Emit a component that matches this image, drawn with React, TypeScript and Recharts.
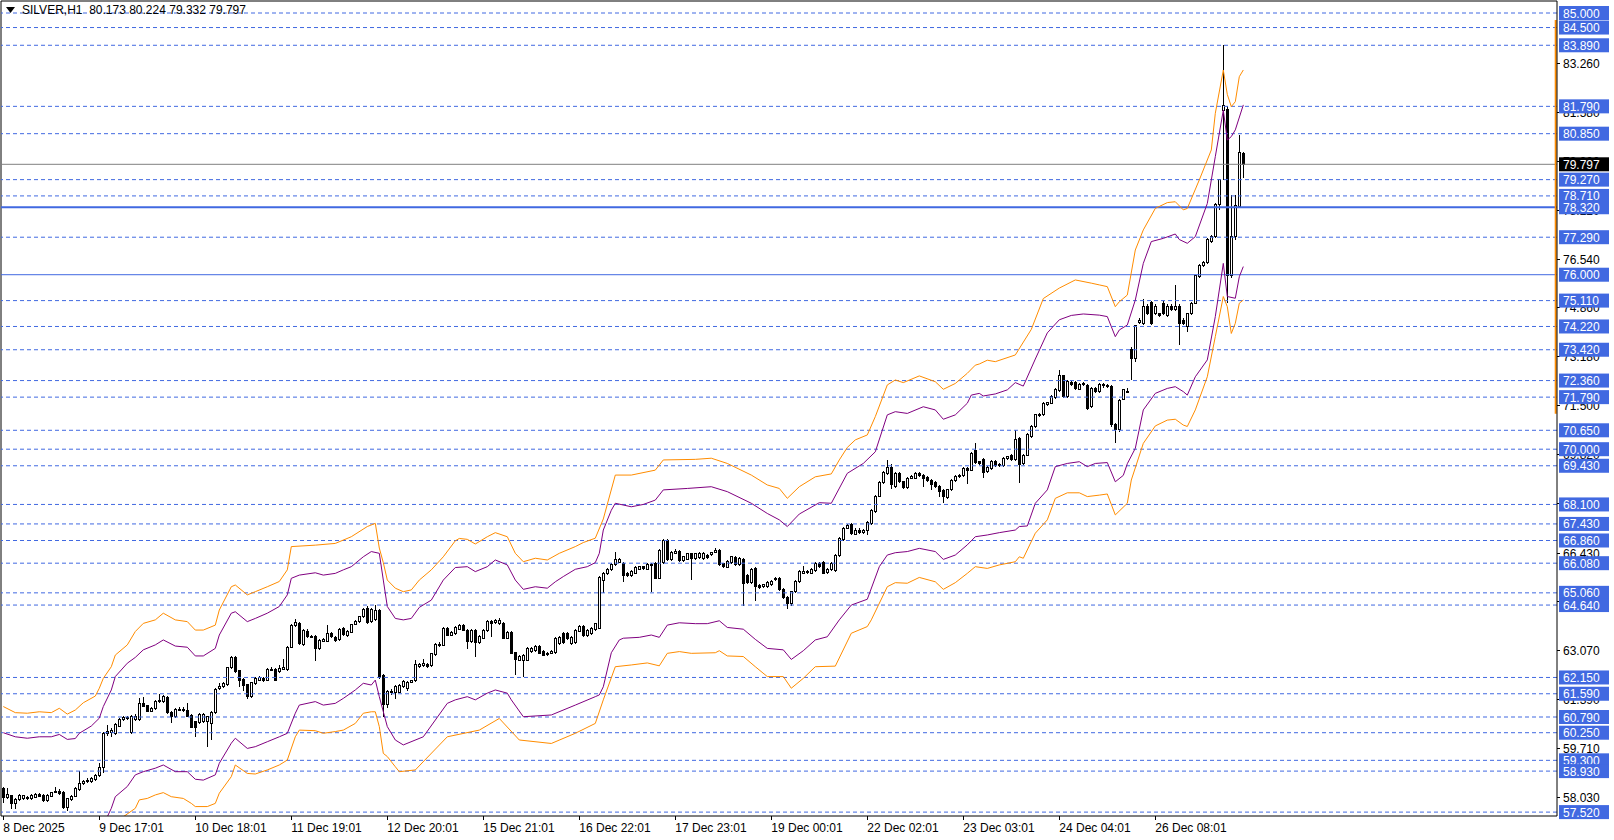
import { ComposedChart, Bar, Line, XAxis, YAxis, ReferenceLine } from 'recharts';

// [open, high, low, close] per H1 bar
const candles: [number, number, number, number][] = [
  [58.34, 58.40, 57.82, 58.02], [58.02, 58.35, 57.98, 58.12], [58.10, 58.12, 57.62, 57.82], [57.80, 58.00, 57.64, 57.94],
  [57.94, 58.15, 57.90, 58.10], [57.98, 58.12, 57.94, 58.09], [58.02, 58.06, 57.95, 57.98], [57.98, 58.14, 57.95, 58.10],
  [58.03, 58.18, 58.00, 58.14], [58.14, 58.18, 58.04, 58.07], [58.10, 58.14, 57.88, 57.91], [57.91, 58.14, 57.88, 58.10],
  [58.07, 58.22, 58.04, 58.19], [58.19, 58.40, 58.16, 58.24], [58.24, 58.30, 58.12, 58.17], [58.21, 58.26, 57.62, 57.68],
  [57.68, 58.02, 57.57, 57.98], [57.94, 58.10, 57.90, 58.07], [58.07, 58.38, 58.04, 58.34], [58.30, 58.92, 58.26, 58.51],
  [58.51, 58.64, 58.46, 58.58], [58.56, 58.68, 58.52, 58.62], [58.56, 58.72, 58.52, 58.67], [58.65, 58.84, 58.60, 58.78],
  [58.78, 59.22, 58.72, 59.04], [59.04, 60.28, 58.85, 60.23], [60.21, 60.52, 60.14, 60.30], [60.25, 60.40, 60.10, 60.32],
  [60.21, 60.58, 60.16, 60.53], [60.48, 60.74, 60.44, 60.69], [60.69, 60.84, 60.64, 60.78], [60.79, 60.84, 60.70, 60.76],
  [60.26, 60.86, 60.20, 60.80], [60.69, 60.88, 60.64, 60.82], [60.71, 61.43, 60.66, 61.26], [61.26, 61.49, 61.12, 61.15],
  [61.17, 61.22, 60.95, 60.99], [60.99, 61.12, 60.95, 61.08], [61.08, 61.36, 61.04, 61.31], [61.31, 61.58, 61.28, 61.35],
  [61.31, 61.55, 61.28, 61.49], [61.47, 61.52, 60.90, 60.94], [60.96, 61.00, 60.60, 60.80], [60.80, 61.10, 60.76, 61.05],
  [61.01, 61.14, 60.98, 61.05], [61.05, 61.12, 60.96, 61.01], [61.03, 61.26, 60.78, 60.80], [60.85, 60.90, 60.40, 60.44],
  [60.62, 60.66, 60.11, 60.44], [60.60, 60.92, 60.56, 60.87], [60.62, 60.92, 60.58, 60.87], [60.62, 60.84, 59.75, 60.80],
  [60.55, 61.00, 60.00, 60.96], [60.94, 61.78, 60.90, 61.74], [61.77, 61.95, 61.72, 61.83], [61.83, 61.98, 61.78, 61.95],
  [61.90, 62.52, 61.86, 62.48], [62.48, 62.90, 62.44, 62.84], [62.84, 62.90, 62.32, 62.36], [62.38, 62.42, 61.81, 62.06],
  [62.09, 62.14, 61.70, 61.86], [61.90, 61.94, 61.42, 61.49], [61.49, 62.00, 61.44, 61.97], [61.93, 62.16, 61.90, 62.11],
  [62.06, 62.20, 62.02, 62.16], [62.13, 62.18, 62.00, 62.04], [62.06, 62.46, 62.02, 62.41], [62.41, 62.50, 62.36, 62.43],
  [62.41, 62.46, 62.02, 62.06], [62.34, 62.57, 62.30, 62.45], [62.43, 62.80, 62.40, 62.48], [62.41, 63.22, 62.38, 63.19],
  [63.19, 63.98, 63.16, 63.94], [63.92, 64.15, 63.88, 64.04], [64.01, 64.06, 63.28, 63.32], [63.28, 63.82, 63.24, 63.78],
  [63.74, 63.80, 63.50, 63.55], [63.57, 63.62, 63.50, 63.55], [63.57, 63.60, 62.71, 63.14], [63.14, 63.46, 63.10, 63.42],
  [63.40, 63.50, 63.36, 63.46], [63.40, 63.94, 63.36, 63.65], [63.65, 63.70, 63.50, 63.55], [63.53, 63.58, 63.38, 63.42],
  [63.44, 63.86, 63.40, 63.81], [63.83, 63.88, 63.58, 63.62], [63.58, 63.78, 63.54, 63.74], [63.71, 64.00, 63.68, 63.97],
  [63.97, 64.12, 63.94, 64.08], [64.08, 64.28, 64.04, 64.24], [64.24, 64.53, 64.20, 64.49], [64.52, 64.60, 64.00, 64.04],
  [64.06, 64.54, 64.02, 64.49], [64.15, 64.63, 64.10, 64.47], [64.45, 64.50, 62.10, 62.20], [62.22, 62.28, 60.80, 61.22],
  [61.22, 61.72, 61.10, 61.67], [61.67, 61.75, 61.55, 61.63], [61.65, 61.90, 61.40, 61.83], [61.65, 61.94, 61.60, 61.88],
  [61.83, 62.08, 61.78, 62.02], [61.76, 62.02, 61.70, 61.97], [61.99, 62.08, 61.95, 62.04], [62.04, 62.75, 62.00, 62.58],
  [62.52, 62.66, 62.48, 62.61], [62.57, 62.80, 62.52, 62.64], [62.61, 62.66, 62.48, 62.52], [62.57, 63.00, 62.52, 62.96],
  [62.93, 63.34, 62.90, 63.30], [63.30, 63.36, 63.20, 63.26], [63.26, 63.90, 63.22, 63.84], [63.84, 63.90, 63.56, 63.61],
  [63.61, 63.74, 63.56, 63.69], [63.67, 63.92, 63.62, 63.87], [63.81, 64.00, 63.78, 63.95], [63.95, 64.00, 63.74, 63.78],
  [63.78, 63.82, 63.12, 63.38], [63.38, 63.80, 63.34, 63.76], [63.76, 63.80, 62.87, 63.35], [63.35, 63.60, 63.30, 63.55],
  [63.50, 63.82, 63.46, 63.78], [63.76, 64.12, 63.72, 64.07], [64.07, 64.12, 63.55, 64.01], [64.03, 64.16, 63.98, 64.10],
  [64.01, 64.18, 63.96, 64.12], [64.01, 64.06, 63.46, 63.50], [63.50, 63.76, 63.46, 63.71], [63.71, 63.76, 62.94, 62.98],
  [63.00, 63.04, 62.22, 62.77], [62.75, 62.92, 62.70, 62.87], [62.75, 62.94, 62.18, 62.89], [62.75, 63.20, 62.70, 63.15],
  [63.04, 63.20, 63.00, 63.15], [63.07, 63.26, 63.02, 63.21], [63.21, 63.26, 62.94, 62.98], [63.04, 63.08, 62.88, 62.92],
  [62.96, 63.02, 62.90, 62.98], [62.98, 63.10, 62.94, 63.05], [63.00, 63.54, 62.96, 63.49], [63.32, 63.58, 63.28, 63.53],
  [63.65, 63.70, 63.30, 63.35], [63.67, 63.72, 63.44, 63.48], [63.32, 63.58, 63.28, 63.53], [63.35, 63.82, 63.30, 63.78],
  [63.73, 63.94, 63.70, 63.90], [63.90, 63.94, 63.54, 63.58], [63.58, 63.80, 63.54, 63.76], [63.67, 63.88, 63.62, 63.83],
  [63.81, 64.04, 63.76, 63.99], [63.84, 65.64, 63.80, 65.59], [65.48, 65.76, 65.07, 65.71], [65.71, 65.92, 65.66, 65.87],
  [65.85, 66.10, 65.80, 66.05], [66.03, 66.48, 65.98, 66.19], [66.12, 66.26, 66.08, 66.21], [66.07, 66.12, 65.44, 65.67],
  [65.73, 65.78, 65.60, 65.64], [65.64, 65.84, 65.60, 65.79], [65.73, 65.98, 65.70, 65.94], [65.87, 66.00, 65.84, 65.96],
  [65.96, 66.00, 65.86, 65.91], [65.87, 66.10, 65.84, 66.05], [66.00, 66.08, 65.10, 66.03], [66.07, 66.12, 65.52, 65.56],
  [65.57, 66.58, 65.52, 66.53], [66.10, 66.90, 66.06, 66.85], [66.85, 66.90, 66.16, 66.21], [66.19, 66.50, 66.14, 66.46],
  [66.42, 66.56, 66.38, 66.49], [66.48, 66.52, 66.12, 66.17], [66.17, 66.34, 66.12, 66.30], [66.21, 66.44, 66.18, 66.40],
  [66.40, 66.44, 65.50, 66.25], [66.25, 66.44, 66.20, 66.40], [66.28, 66.46, 66.24, 66.42], [66.25, 66.46, 66.20, 66.42],
  [66.36, 66.40, 66.24, 66.28], [66.37, 66.48, 66.32, 66.44], [66.46, 66.60, 66.42, 66.53], [66.51, 66.56, 65.98, 66.02],
  [66.07, 66.10, 65.92, 65.96], [65.94, 66.18, 65.90, 66.13], [66.10, 66.34, 66.06, 66.30], [66.28, 66.32, 66.00, 66.05],
  [66.05, 66.30, 66.00, 66.25], [66.21, 66.26, 64.61, 65.39], [65.67, 65.72, 65.36, 65.41], [65.41, 65.90, 65.36, 65.85],
  [65.89, 65.94, 64.79, 65.27], [65.32, 65.36, 65.20, 65.25], [65.27, 65.38, 65.22, 65.33], [65.27, 65.46, 65.22, 65.41],
  [65.33, 65.50, 65.30, 65.46], [65.52, 65.62, 65.48, 65.56], [65.55, 65.60, 65.12, 65.16], [65.18, 65.22, 64.86, 64.91],
  [64.91, 64.96, 64.49, 64.68], [64.68, 65.14, 64.62, 65.10], [65.10, 65.50, 65.06, 65.44], [65.44, 65.84, 65.40, 65.79],
  [65.73, 65.98, 65.70, 65.79], [65.77, 65.86, 65.72, 65.80], [65.73, 65.90, 65.70, 65.85], [65.82, 66.12, 65.78, 66.08],
  [66.07, 66.12, 65.92, 65.96], [66.10, 66.14, 65.70, 65.73], [65.75, 65.90, 65.70, 65.85], [65.85, 66.12, 65.80, 66.08],
  [65.82, 66.40, 65.78, 66.36], [66.33, 66.98, 66.28, 66.93], [66.90, 67.34, 66.86, 67.28], [67.28, 67.42, 67.24, 67.36],
  [67.40, 67.46, 67.06, 67.11], [67.08, 67.28, 67.04, 67.22], [67.22, 67.28, 67.10, 67.15], [67.15, 67.24, 67.10, 67.20],
  [67.22, 67.52, 67.06, 67.47], [67.45, 67.94, 67.40, 67.89], [67.85, 68.44, 67.80, 68.39], [68.39, 68.90, 68.34, 68.85],
  [68.85, 69.24, 68.80, 69.19], [69.17, 69.62, 69.12, 69.38], [69.38, 69.50, 68.62, 68.77], [68.71, 69.20, 68.66, 69.15],
  [69.15, 69.20, 68.84, 68.88], [68.88, 68.92, 68.64, 68.69], [68.69, 69.04, 68.64, 69.00], [69.00, 69.10, 68.96, 69.05],
  [69.00, 69.20, 68.96, 69.15], [69.17, 69.22, 69.06, 69.10], [69.11, 69.16, 68.70, 69.00], [69.03, 69.08, 68.88, 68.92],
  [68.94, 68.98, 68.60, 68.77], [68.85, 68.90, 68.66, 68.71], [68.73, 68.78, 68.36, 68.54], [68.57, 68.62, 68.14, 68.37],
  [68.34, 68.64, 68.30, 68.60], [68.60, 68.96, 68.56, 68.92], [68.92, 69.10, 68.88, 69.05], [69.05, 69.14, 69.00, 69.10],
  [69.10, 69.38, 69.06, 69.34], [69.34, 69.40, 68.80, 69.28], [69.28, 69.90, 69.24, 69.86], [69.97, 70.20, 69.50, 69.54],
  [69.56, 69.60, 69.46, 69.51], [69.63, 69.68, 69.00, 69.19], [69.23, 69.42, 69.18, 69.38], [69.34, 69.62, 69.30, 69.57],
  [69.57, 69.62, 69.40, 69.45], [69.47, 69.52, 69.40, 69.45], [69.45, 69.74, 69.40, 69.69], [69.69, 69.78, 69.64, 69.74],
  [69.77, 69.82, 69.60, 69.65], [69.65, 70.66, 69.60, 70.34], [70.37, 70.42, 68.85, 69.46], [69.51, 69.84, 69.46, 69.80],
  [69.80, 70.56, 69.76, 70.52], [70.43, 70.82, 70.38, 70.77], [70.77, 71.22, 70.72, 71.18], [71.16, 71.26, 71.12, 71.21],
  [71.18, 71.62, 71.14, 71.58], [71.55, 71.64, 71.50, 71.60], [71.58, 71.86, 71.54, 71.81], [71.78, 72.10, 71.74, 72.06],
  [72.03, 72.72, 71.98, 72.52], [72.52, 72.56, 71.76, 71.81], [71.81, 72.38, 71.76, 72.32], [72.29, 72.34, 72.18, 72.23],
  [72.29, 72.34, 72.04, 72.09], [72.06, 72.26, 72.02, 72.21], [72.21, 72.30, 72.16, 72.25], [72.20, 72.24, 71.36, 71.40],
  [71.46, 72.14, 71.40, 72.09], [72.09, 72.14, 71.94, 71.98], [71.98, 72.26, 71.94, 72.21], [72.21, 72.26, 72.12, 72.18],
  [72.18, 72.24, 72.10, 72.15], [72.15, 72.20, 70.75, 70.85], [70.85, 70.90, 70.20, 70.66], [70.66, 71.74, 70.60, 71.69],
  [71.72, 72.08, 71.68, 72.04], [72.00, 72.10, 71.94, 71.98], [73.43, 73.50, 72.38, 73.12], [73.12, 74.28, 73.00, 74.24],
  [74.35, 74.50, 74.30, 74.44], [74.33, 75.15, 74.28, 74.92], [74.92, 74.98, 74.62, 74.67], [75.04, 75.10, 74.28, 74.33],
  [74.65, 74.98, 74.60, 74.92], [74.65, 74.70, 74.54, 74.60], [75.02, 75.08, 74.62, 74.67], [74.60, 74.98, 74.56, 74.92],
  [74.92, 74.98, 74.76, 74.81], [74.79, 75.65, 74.74, 74.92], [74.92, 74.98, 73.58, 74.33], [74.44, 74.50, 74.28, 74.33],
  [74.21, 74.70, 74.04, 74.65], [74.65, 75.06, 74.60, 75.02], [75.02, 76.00, 74.98, 75.96], [75.93, 76.36, 75.88, 76.30],
  [76.30, 76.46, 76.26, 76.41], [76.41, 77.26, 76.36, 77.22], [77.14, 77.38, 77.10, 77.33], [77.31, 78.48, 77.26, 78.43],
  [78.40, 79.30, 78.23, 79.26], [81.64, 83.89, 79.26, 81.82], [81.69, 81.80, 75.04, 75.99], [75.99, 78.74, 75.90, 77.31],
  [77.31, 78.74, 77.20, 78.37], [78.34, 80.80, 78.30, 80.20], [80.173, 80.224, 79.332, 79.797],
];

// band lines as [bar index, price]
const purpleUpper: [number, number][] = [
  [0, 60.25], [3, 60.11], [6, 60.06], [9, 60.11], [12, 60.11], [14, 60.19], [16, 60.02], [18, 60.05], [19, 60.23],
  [22, 60.48], [24, 60.75], [25, 61.15], [27, 61.72], [28, 62.18], [31, 62.64], [33, 62.84], [35, 63.1], [38, 63.27],
  [40, 63.44], [43, 63.23], [46, 63.19], [48, 62.89], [50, 62.89], [53, 63.15], [54, 63.61], [57, 64.36], [58, 64.41],
  [61, 64.07], [63, 64.18], [66, 64.36], [69, 64.59], [71, 64.99], [72, 65.56], [74, 65.67], [78, 65.75], [80, 65.67],
  [83, 65.73], [85, 65.85], [87, 65.96], [90, 66.3], [92, 66.48], [94, 66.42], [95, 65.5], [96, 64.59], [98, 64.18],
  [100, 64.13], [102, 64.18], [104, 64.56], [107, 64.81], [110, 65.5], [113, 65.93], [116, 65.96], [118, 65.79],
  [121, 65.96], [123, 66.19], [126, 66.02], [128, 65.5], [130, 65.18], [133, 65.27], [136, 65.22], [138, 65.44],
  [140, 65.62], [143, 65.87], [146, 65.96], [148, 66.1], [149, 66.42], [150, 67.22], [152, 67.9], [153, 68.14],
  [157, 68.02], [160, 68.1], [163, 68.25], [165, 68.6], [171, 68.65], [177, 68.71], [181, 68.54], [187, 68.14],
  [191, 67.79], [194, 67.57], [196, 67.34], [199, 67.77], [204, 68.16], [207, 68.14], [211, 69.17], [215, 69.51],
  [218, 69.91], [221, 71.18], [223, 71.29], [226, 71.23], [230, 71.46], [233, 71.35], [235, 71.03], [238, 71.18],
  [241, 71.58], [242, 71.86], [244, 71.92], [245, 71.83], [248, 71.9], [251, 72.04], [253, 72.29], [255, 72.17],
  [258, 73.1], [261, 74.0], [264, 74.45], [267, 74.6], [270, 74.65], [274, 74.61], [276, 74.56], [278, 73.87],
  [279, 74.1], [281, 74.27], [283, 75.13], [285, 76.39], [287, 77.14], [290, 77.25], [293, 77.4], [294, 77.21],
  [296, 77.08], [298, 77.31], [301, 78.45], [303, 80.06], [305, 81.66], [306, 80.63], [307, 80.75], [308, 80.98],
  [310, 81.84],
];

const orangeUpper: [number, number][] = [
  [0, 61.15], [3, 60.94], [6, 60.92], [9, 60.97], [12, 60.94], [14, 61.09], [16, 60.89], [18, 61.03], [20, 61.28],
  [23, 61.51], [24, 61.78], [25, 62.12], [27, 62.52], [28, 62.92], [31, 63.27], [33, 63.73], [35, 64.01], [38, 64.13],
  [40, 64.36], [43, 64.13], [46, 64.07], [48, 63.78], [50, 63.78], [53, 63.95], [54, 64.47], [57, 65.27], [58, 65.33],
  [61, 64.99], [63, 65.1], [66, 65.27], [69, 65.45], [71, 65.85], [72, 66.65], [78, 66.7], [83, 66.76], [87, 66.99],
  [91, 67.34], [93, 67.45], [94, 66.6], [95, 66.1], [96, 65.5], [98, 65.22], [100, 65.1], [102, 65.16], [104, 65.5],
  [107, 65.85], [110, 66.3], [113, 66.85], [114, 66.93], [116, 66.9], [118, 66.74], [121, 66.99], [123, 67.13],
  [126, 66.99], [128, 66.42], [130, 66.13], [133, 66.25], [136, 66.19], [139, 66.42], [143, 66.65], [145, 66.79],
  [148, 66.94], [150, 67.6], [153, 69.11], [157, 69.11], [163, 69.28], [165, 69.63], [173, 69.65], [177, 69.69],
  [181, 69.51], [187, 69.11], [191, 68.77], [194, 68.65], [196, 68.31], [199, 68.71], [203, 69.05], [207, 69.15],
  [209, 69.63], [211, 70.06], [213, 70.32], [216, 70.49], [218, 71.12], [221, 72.21], [223, 72.38], [225, 72.29],
  [229, 72.52], [233, 72.32], [235, 72.06], [238, 72.26], [241, 72.61], [243, 72.89], [244, 72.93], [246, 73.06],
  [248, 73.01], [253, 73.24], [257, 74.12], [260, 75.18], [264, 75.54], [268, 75.82], [272, 75.71], [274, 75.65],
  [276, 75.59], [278, 74.9], [279, 75.07], [281, 75.3], [283, 76.85], [285, 77.54], [288, 78.28], [291, 78.48],
  [293, 78.51], [295, 78.23], [296, 78.28], [299, 79.26], [302, 80.29], [303, 81.55], [305, 83.04], [306, 82.2],
  [307, 81.78], [308, 81.95], [309, 82.81], [310, 83.04],
];

const purpleLower: [number, number][] = [
  [0, 56.6], [10, 56.5], [20, 56.7], [24, 57.2], [26, 57.36], [27, 57.65], [28, 58.05], [31, 58.4], [33, 58.8],
  [35, 58.91], [38, 59.03], [40, 59.14], [43, 58.91], [46, 58.91], [48, 58.65], [50, 58.62], [53, 58.8], [54, 59.2],
  [57, 59.89], [58, 60.06], [61, 59.71], [63, 59.77], [66, 59.94], [69, 60.11], [71, 60.23], [73, 60.92], [74, 61.2],
  [78, 61.32], [80, 61.2], [83, 61.26], [85, 61.43], [88, 61.72], [90, 61.95], [92, 61.89], [93, 62.06], [94, 61.49],
  [96, 60.46], [98, 60.0], [100, 59.83], [105, 60.11], [111, 61.26], [113, 61.38], [116, 61.49], [118, 61.38],
  [121, 61.61], [123, 61.72], [126, 61.61], [127, 61.38], [130, 60.8], [137, 60.86], [143, 61.2], [148, 61.49],
  [149, 61.55], [150, 61.83], [152, 63.0], [154, 63.44], [155, 63.5], [159, 63.53], [162, 63.61], [164, 63.53],
  [166, 63.95], [169, 64.03], [173, 64.0], [176, 64.0], [179, 64.1], [181, 63.87], [185, 63.81], [188, 63.46],
  [191, 63.15], [195, 63.1], [197, 62.77], [200, 63.07], [203, 63.44], [206, 63.55], [209, 64.13], [212, 64.64],
  [216, 64.84], [219, 65.96], [221, 66.36], [223, 66.44], [226, 66.48], [229, 66.59], [233, 66.48], [235, 66.21],
  [238, 66.36], [241, 66.71], [243, 66.99], [246, 67.05], [249, 67.13], [253, 67.22], [254, 67.34], [256, 67.36],
  [258, 68.14], [261, 68.6], [263, 69.4], [266, 69.51], [269, 69.57], [271, 69.4], [273, 69.51], [276, 69.54],
  [278, 68.88], [280, 69.1], [281, 69.5], [283, 70.03], [285, 71.35], [288, 71.92], [291, 72.09], [293, 72.15],
  [295, 71.98], [296, 71.86], [298, 72.49], [301, 73.07], [303, 74.56], [305, 76.39], [306, 75.25], [308, 75.19],
  [309, 75.93], [310, 76.28],
];

const orangeLower: [number, number][] = [
  [0, 55.7], [10, 55.6], [20, 55.8], [25, 56.3], [28, 56.9], [30, 57.36], [33, 57.65], [34, 57.94], [36, 57.99],
  [38, 58.11], [40, 58.19], [42, 58.05], [45, 57.99], [47, 57.82], [48, 57.71], [51, 57.71], [53, 57.82], [54, 58.17],
  [57, 58.74], [58, 59.14], [61, 58.85], [63, 58.83], [66, 58.97], [69, 59.14], [71, 59.31], [73, 60.11], [74, 60.34],
  [78, 60.32], [80, 60.23], [83, 60.29], [85, 60.34], [88, 60.57], [90, 60.92], [92, 60.97], [93, 60.97], [94, 60.46],
  [95, 59.54], [96, 59.43], [98, 59.08], [99, 58.91], [103, 58.97], [111, 60.11], [119, 60.34], [124, 60.74],
  [129, 60.0], [137, 59.88], [143, 60.23], [148, 60.57], [150, 61.38], [153, 62.52], [157, 62.58], [161, 62.65],
  [164, 62.55], [166, 62.98], [169, 63.04], [172, 62.98], [178, 63.0], [179, 63.07], [181, 62.89], [185, 62.87],
  [188, 62.52], [191, 62.18], [195, 62.18], [197, 61.78], [200, 62.12], [203, 62.52], [208, 62.54], [212, 63.67],
  [216, 63.9], [217, 64.13], [221, 65.27], [223, 65.41], [226, 65.39], [229, 65.59], [233, 65.44], [235, 65.18],
  [238, 65.41], [241, 65.73], [243, 65.96], [246, 65.9], [249, 66.02], [253, 66.13], [254, 66.3], [255, 66.25],
  [258, 67.11], [261, 67.57], [263, 68.31], [266, 68.5], [269, 68.5], [271, 68.37], [274, 68.42], [276, 68.46],
  [278, 67.74], [281, 68.14], [282, 68.94], [285, 70.2], [288, 70.8], [291, 71.0], [293, 71.03], [295, 70.83],
  [296, 70.78], [298, 71.35], [301, 72.49], [303, 73.87], [305, 75.25], [306, 74.9], [307, 73.98], [308, 74.33],
  [309, 75.02], [310, 75.13],
];

const dashedLevels = [
  85.0, 84.5, 83.89, 81.79, 80.85, 79.27, 78.71, 77.29, 75.11, 74.22, 73.42, 72.36, 71.79, 70.65, 70.0, 69.43,
  68.1, 67.43, 66.86, 66.08, 65.06, 64.64, 62.15, 61.59, 60.79, 60.25, 59.3, 58.93, 57.52,
];
const solidLevels = [78.32, 76.0];
const bidPrice = 79.797;

const priceTicks = [83.26, 81.58, 79.9, 78.22, 76.54, 74.86, 73.18, 71.5, 69.82, 68.12, 66.43, 64.75, 63.07, 61.39, 59.71, 58.03];
const timeTickBars = [0, 24, 48, 72, 96, 120, 144, 168, 192, 216, 240, 264, 288];
const timeTickLabels = [
  '8 Dec 2025', '9 Dec 17:01', '10 Dec 18:01', '11 Dec 19:01', '12 Dec 20:01', '15 Dec 21:01', '16 Dec 22:01',
  '17 Dec 23:01', '19 Dec 00:01', '22 Dec 02:01', '23 Dec 03:01', '24 Dec 04:01', '26 Dec 08:01',
];

const FONT = '"Liberation Sans", Arial, sans-serif';
const BLUE = '#4169E1';
const X_DOMAIN: [number, number] = [-0.575, 388.425];
const Y_DOMAIN: [number, number] = [57.386, 85.4127];

const rows: any[] = candles.map(([o, h, l, c], i) => ({ i, o, h, l, c, range: [l, h] }));
const bandSets: [string, [number, number][]][] = [
  ['pu', purpleUpper], ['ou', orangeUpper], ['pl', purpleLower], ['ol', orangeLower],
];
bandSets.forEach(([key, pts]) => pts.forEach(([i, v]) => { rows[i][key] = v; }));

function Candle(props: any) {
  const { x, y, width, height, payload } = props;
  if (x == null || !payload) return null;
  const { o, h, l, c } = payload;
  const top = Math.min(y, y + height);
  const bottom = Math.max(y, y + height);
  const span = h - l || 1;
  const toPx = (p: number) => top + ((h - p) / span) * (bottom - top);
  const cx = Math.round(x + width / 2) + 0.5;
  const yo = toPx(o);
  const yc = toPx(c);
  const bodyTop = Math.min(yo, yc);
  const bodyH = Math.max(Math.abs(yc - yo), 1);
  return (
    <g shapeRendering="crispEdges">
      <line x1={cx} x2={cx} y1={top} y2={bottom} stroke="#000" />
      <rect x={cx - 1} y={bodyTop} width={2} height={bodyH} fill={c >= o ? '#fff' : '#000'} stroke="#000" />
    </g>
  );
}

// boxed price label on the right scale, for horizontal levels
const levelLabel = (value: number, bg: string) => (props: any) => {
  const vb = props.viewBox || {};
  const x = vb.x + vb.width + 2;
  const y = vb.y;
  return (
    <g>
      <rect x={x} y={y - 7} width={50} height={14} fill={bg} />
      <text x={x + 4} y={y + 4.5} fill="#fff" fontSize={12} fontFamily={FONT}>{value.toFixed(3)}</text>
    </g>
  );
};

// plain scale tick, drawn under the level labels
const scaleLabel = (value: number) => (props: any) => {
  const vb = props.viewBox || {};
  const x = vb.x + vb.width;
  const y = vb.y;
  return (
    <g>
      <line x1={x} x2={x + 3} y1={y} y2={y} stroke="#000" shapeRendering="crispEdges" />
      <text x={x + 6} y={y + 4.5} fill="#000" fontSize={12} fontFamily={FONT}>{value.toFixed(3)}</text>
    </g>
  );
};

function TimeTick(props: any) {
  const { x, y, payload } = props;
  const label = timeTickLabels[timeTickBars.indexOf(payload.value)];
  return (
    <g>
      <line x1={x} x2={x} y1={y} y2={y + 4} stroke="#000" shapeRendering="crispEdges" />
      <text x={x} y={y + 16} fill="#000" fontSize={12} fontFamily={FONT}>{label}</text>
    </g>
  );
}

export default function App() {
  return (
    <div style={{ position: 'relative', width: 1614, height: 840, background: '#fff' }}>
      <style>{'body{margin:0}'}</style>
      <ComposedChart width={1614} height={840} data={rows} margin={{ top: 1, right: 0, bottom: 0, left: 1 }}>
        <XAxis
          dataKey="i"
          type="number"
          domain={X_DOMAIN}
          allowDataOverflow
          ticks={timeTickBars}
          interval={0}
          height={24}
          tickLine={false}
          tickSize={0}
          tickMargin={0}
          stroke="#000"
          tick={<TimeTick />}
        />
        <YAxis
          orientation="right"
          type="number"
          domain={Y_DOMAIN}
          allowDataOverflow
          ticks={priceTicks}
          width={57}
          tickLine={false}
          tick={false}
          stroke="#000"
        />
        <ReferenceLine x={X_DOMAIN[0]} stroke="#000" />
        <ReferenceLine y={Y_DOMAIN[1]} stroke="#000" />
        {priceTicks.map((v) => (
          <ReferenceLine key={`t${v}`} y={v} stroke="none" label={scaleLabel(v)} />
        ))}
        {dashedLevels.map((v) => (
          <ReferenceLine key={v} y={v} stroke={BLUE} strokeDasharray="4 3" label={levelLabel(v, BLUE)} />
        ))}
        <ReferenceLine y={bidPrice} stroke="#808080" label={levelLabel(bidPrice, '#000')} />
        <ReferenceLine y={solidLevels[0]} stroke={BLUE} strokeWidth={2} label={levelLabel(solidLevels[0], BLUE)} />
        <ReferenceLine y={solidLevels[1]} stroke={BLUE} label={levelLabel(solidLevels[1], BLUE)} />
        <ReferenceLine
          segment={[{ x: 388.1, y: 84.76 }, { x: 388.1, y: 71.22 }]}
          stroke="#FF8C00"
          strokeWidth={2}
        />
        <Line dataKey="ou" stroke="#FF8C00" strokeWidth={1} dot={false} connectNulls isAnimationActive={false} />
        <Line dataKey="ol" stroke="#FF8C00" strokeWidth={1} dot={false} connectNulls isAnimationActive={false} />
        <Line dataKey="pu" stroke="#800080" strokeWidth={1} dot={false} connectNulls isAnimationActive={false} />
        <Line dataKey="pl" stroke="#800080" strokeWidth={1} dot={false} connectNulls isAnimationActive={false} />
        <Bar dataKey="range" barSize={3} shape={<Candle />} isAnimationActive={false} />
      </ComposedChart>
      <div
        style={{
          position: 'absolute', left: 6, top: 3, fontFamily: FONT, fontSize: 12, lineHeight: '14px',
          color: '#000', whiteSpace: 'pre', display: 'flex', alignItems: 'center',
        }}
      >
        <svg width={10} height={8} style={{ marginRight: 6 }}>
          <polygon points="0,1 9,1 4.5,7" fill="#000" />
        </svg>
        <span>SILVER,H1  80.173 80.224 79.332 79.797</span>
      </div>
    </div>
  );
}
